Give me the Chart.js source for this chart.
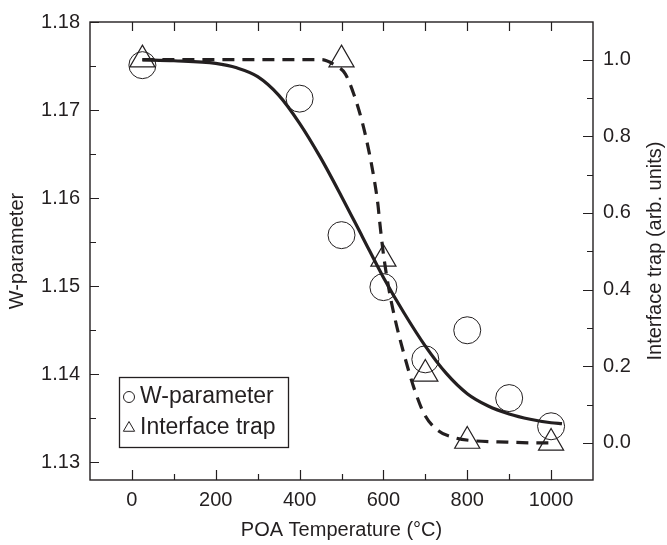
<!DOCTYPE html>
<html><head><meta charset="utf-8">
<script src="https://cdn.jsdelivr.net/npm/chart.js@4/dist/chart.umd.min.js"></script>
<style>html,body{margin:0;padding:0;background:#fff;} #wrap{width:667px;height:545px;position:relative;}</style>
</head><body><div id="wrap"><canvas id="c" width="667" height="545"></canvas></div>
<script>
// Measured points
const wTemp = [25, 400, 500, 600, 700, 800, 900, 1000];
const wParam = [1.1751, 1.1713, 1.1558, 1.1499, 1.1417, 1.1450, 1.1373, 1.1341];
const trapTemp = [25, 500, 600, 700, 800, 1000];
const trapVal = [1.0, 1.0, 0.48, 0.18, 0.005, 0.0];
// Fitted curves
const wFitX = [25, 100, 200, 250, 300, 350, 400, 450, 500, 550, 600, 650, 700, 750, 800, 850, 900, 950, 1000, 1026];
const wFitY = [1.1757, 1.1756, 1.1753, 1.1748, 1.1738, 1.1717, 1.1685, 1.1646, 1.1602, 1.1556, 1.1510, 1.1469, 1.1432, 1.1401, 1.1378, 1.1364, 1.1355, 1.1349, 1.1345, 1.1344];
const trapFitX = [25, 100, 200, 300, 400, 452, 485, 509, 530, 550, 566, 579, 587, 591, 600, 612, 628, 649, 673, 698, 731, 772, 812, 895, 977, 1000];
const trapFitY = [1.0, 1.0, 1.0, 1.0, 1.0, 1.0, 0.985, 0.963, 0.908, 0.835, 0.758, 0.681, 0.621, 0.578, 0.493, 0.408, 0.322, 0.232, 0.143, 0.074, 0.032, 0.013, 0.006, 0.002, 0.0, 0.0];
// Axis ticks
const xTicks = [0, 200, 400, 600, 800, 1000];
const yTicks = [1.13, 1.14, 1.15, 1.16, 1.17, 1.18];
const y1Ticks = [0.0, 0.2, 0.4, 0.6, 0.8, 1.0];
const xMinor = [0, 100, 200, 300, 400, 500, 600, 700, 800, 900, 1000];
const yMinor = [1.13, 1.135, 1.14, 1.145, 1.15, 1.155, 1.16, 1.165, 1.17, 1.175, 1.18];
const y1Minor = [0.0, 0.1, 0.2, 0.3, 0.4, 0.5, 0.6, 0.7, 0.8, 0.9, 1.0];

const INK = '#231f20';
const FONT = "'Liberation Sans', Arial, Helvetica, sans-serif";
const pairs = (xs, ys) => xs.map((x, i) => ({x: x, y: ys[i]}));

const framePlugin = {
  id: 'frame',
  afterDraw(chart) {
    const {ctx, chartArea: a, scales} = chart;
    const x = scales.x, y = scales.y, y1 = scales.y1;
    ctx.save();
    ctx.strokeStyle = INK;
    ctx.lineWidth = 1.4;
    ctx.strokeRect(a.left, a.top, a.right - a.left, a.bottom - a.top);
    ctx.lineWidth = 1.2;
    ctx.beginPath();
    xMinor.forEach(v => {
      const px = Math.round(x.getPixelForValue(v)) + 0.5;
      const major = xTicks.includes(v);
      ctx.moveTo(px, a.bottom); ctx.lineTo(px, a.bottom - (major ? 10 : 6));
      ctx.moveTo(px, a.top); ctx.lineTo(px, a.top + 9);
    });
    yMinor.forEach(v => {
      const py = Math.round(y.getPixelForValue(v)) + 0.5;
      const major = yTicks.some(t => Math.abs(t - v) < 1e-9);
      ctx.moveTo(a.left, py); ctx.lineTo(a.left + (major ? 9 : 6), py);
    });
    y1Minor.forEach(v => {
      const py = Math.round(y1.getPixelForValue(v)) + 0.5;
      const major = y1Ticks.some(t => Math.abs(t - v) < 1e-9);
      ctx.moveTo(a.right, py); ctx.lineTo(a.right - (major ? 10 : 6), py);
    });
    ctx.stroke();

    // right axis title
    ctx.fillStyle = INK;
    ctx.font = "20px " + FONT;
    ctx.textAlign = 'center';
    ctx.textBaseline = 'middle';
    ctx.translate(655, (a.top + a.bottom) / 2);
    ctx.rotate(-Math.PI / 2);
    ctx.fillText('Interface trap (arb. units)', 0, 0);
    ctx.restore();

    // legend
    const lx = 119.5, ly = 377.5, lw = 169, lh = 70;
    ctx.save();
    ctx.fillStyle = '#fff';
    ctx.fillRect(lx, ly, lw, lh);
    ctx.strokeStyle = INK;
    ctx.lineWidth = 1.3;
    ctx.strokeRect(lx, ly, lw, lh);
    ctx.lineWidth = 1;
    Chart.helpers.drawPoint(ctx, {pointStyle: 'circle', radius: 5.5, rotation: 0, borderWidth: 1}, 129, 397);
    Chart.helpers.drawPoint(ctx, {pointStyle: 'triangle', radius: 6.5, rotation: 0, borderWidth: 1}, 129, 428);
    ctx.fillStyle = INK;
    ctx.font = "23px " + FONT;
    ctx.textAlign = 'left';
    ctx.textBaseline = 'middle';
    ctx.fillText('W-parameter', 140, 397);
    ctx.fillText('Interface trap', 140, 428);
    ctx.restore();
  }
};

new Chart(document.getElementById('c'), {
  type: 'scatter',
  data: {
    datasets: [
      {
        label: 'W fit', data: pairs(wFitX, wFitY), yAxisID: 'y', showLine: true,
        borderColor: INK, borderWidth: 3.2, pointRadius: 0, cubicInterpolationMode: 'monotone', fill: false
      },
      {
        label: 'Trap fit', data: pairs(trapFitX, trapFitY), yAxisID: 'y1', showLine: true,
        borderColor: INK, borderWidth: 3.2, borderDash: [12, 8], pointRadius: 0, cubicInterpolationMode: 'monotone', fill: false
      },
      {
        label: 'W-parameter', data: pairs(wTemp, wParam), yAxisID: 'y',
        pointStyle: 'circle', pointRadius: 13.5, pointBorderWidth: 1, borderColor: INK, backgroundColor: 'rgba(0,0,0,0)'
      },
      {
        label: 'Interface trap', data: pairs(trapTemp, trapVal), yAxisID: 'y1',
        pointStyle: 'triangle', pointRadius: 14.5, pointBorderWidth: 1.2, borderColor: INK, backgroundColor: 'rgba(0,0,0,0)'
      }
    ]
  },
  options: {
    responsive: false,
    animation: false,
    layout: {padding: {top: 14, left: 0, right: 0, bottom: 0}},
    plugins: {legend: {display: false}, tooltip: {enabled: false}},
    scales: {
      x: {
        type: 'linear', position: 'bottom', min: -100, max: 1100,
        afterBuildTicks: s => { s.ticks = xTicks.map(v => ({value: v})); },
        afterFit: s => { s.height = 65; },
        grid: {display: false, drawTicks: false},
        border: {display: false},
        ticks: {color: INK, font: {family: FONT, size: 20}, padding: 8, maxRotation: 0, callback: v => String(v)},
        title: {display: true, text: 'POA Temperature (°C)', color: INK, font: {family: FONT, size: 20}, padding: {top: 0, bottom: 3}}
      },
      y: {
        type: 'linear', position: 'left', min: 1.128, max: 1.18,
        afterBuildTicks: s => { s.ticks = yTicks.map(v => ({value: v})); },
        afterFit: s => { s.width = 90; },
        grid: {display: false, drawTicks: false},
        border: {display: false},
        ticks: {color: INK, font: {family: FONT, size: 20}, padding: 10, callback: v => Number(v).toFixed(2)},
        title: {display: true, text: 'W-parameter', color: INK, font: {family: FONT, size: 20}, padding: {top: 5, bottom: 0}}
      },
      y1: {
        type: 'linear', position: 'right', min: -0.0967, max: 1.0982,
        afterBuildTicks: s => { s.ticks = y1Ticks.map(v => ({value: v})); },
        afterFit: s => { s.width = 74; },
        grid: {display: false, drawTicks: false},
        border: {display: false},
        ticks: {color: INK, font: {family: FONT, size: 20}, padding: 10, callback: v => Number(v).toFixed(1)},
        title: {display: false}
      }
    }
  },
  plugins: [framePlugin]
});
</script>
</body></html>
